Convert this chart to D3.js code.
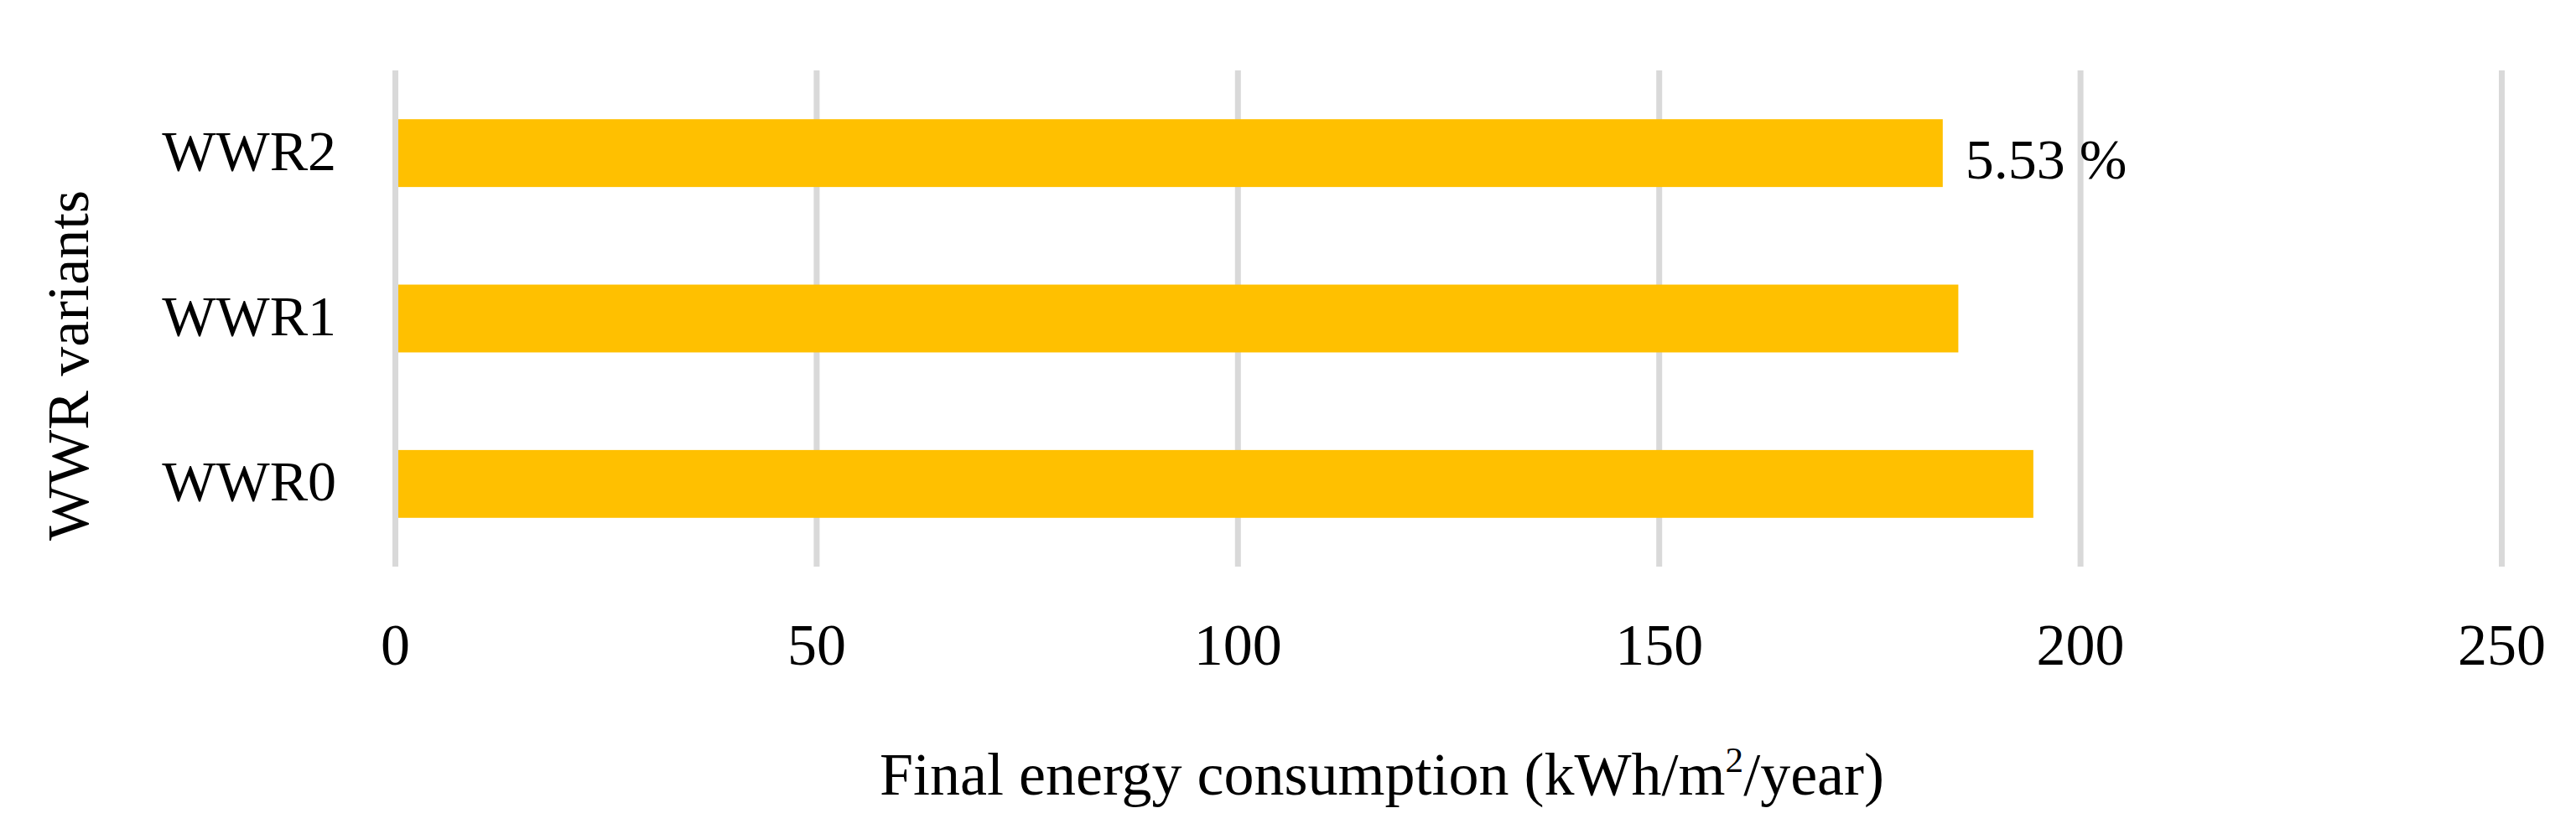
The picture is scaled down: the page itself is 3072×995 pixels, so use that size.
<!DOCTYPE html>
<html>
<head>
<meta charset="utf-8">
<script src="https://cdn.jsdelivr.net/npm/d3@7"></script>
<style>
  html, body { margin: 0; padding: 0; background: #fff; }
  text { font-family: "Liberation Serif", "DejaVu Serif", serif; fill: #000; }
</style>
</head>
<body>
<div id="chart"></div>
<script>
// values
const variants = ["WWR2", "WWR1", "WWR0"]
const consumption = [183.65, 185.5, 194.4]
const barLabels = ["5.53 %", "", ""]
const xTicks = [0, 50, 100, 150, 200, 250]

const width = 3072, height = 995
const plot = {left: 471.5, right: 2983.5, top: 84, bottom: 676}
const fontSize = 68

const svg = d3.select('#chart').append('svg')
    .attr('width', width)
    .attr('height', height)

const x = d3.scaleLinear().domain([0, 250]).range([plot.left, plot.right])
const y = d3.scaleBand().domain(variants).range([plot.top, plot.bottom])
    .paddingInner(0.59).paddingOuter(0.295)

const rows = variants.map((v, i) => ({name: v, value: consumption[i], label: barLabels[i]}))

// gridlines
svg.append('g')
    .attr('class', 'grid')
    .selectAll('line')
    .data(xTicks)
    .join('line')
    .attr('x1', d => x(d)).attr('x2', d => x(d))
    .attr('y1', plot.top).attr('y2', plot.bottom)
    .attr('stroke', '#d9d9d9')
    .attr('stroke-width', 7)

// bars
svg.append('g')
    .selectAll('rect')
    .data(rows)
    .join('rect')
    .attr('x', x(0))
    .attr('y', d => y(d.name))
    .attr('width', d => x(d.value) - x(0))
    .attr('height', y.bandwidth())
    .attr('fill', '#ffc000')

// axis line at zero sits over the bars
svg.append('line')
    .attr('x1', x(0)).attr('x2', x(0))
    .attr('y1', plot.top).attr('y2', plot.bottom)
    .attr('stroke', '#d9d9d9')
    .attr('stroke-width', 7)

// value label
svg.append('g')
    .selectAll('text')
    .data(rows.filter(d => d.label))
    .join('text')
    .attr('x', d => x(d.value) + 27)
    .attr('y', d => y(d.name) + y.bandwidth() / 2 + 30)
    .attr('font-size', fontSize)
    .text(d => d.label)

// category labels
svg.append('g')
    .selectAll('text')
    .data(variants)
    .join('text')
    .attr('x', 401)
    .attr('y', d => y(d) + y.bandwidth() / 2 + 20)
    .attr('text-anchor', 'end')
    .attr('font-size', fontSize)
    .text(d => d)

// x tick labels
svg.append('g')
    .selectAll('text')
    .data(xTicks)
    .join('text')
    .attr('x', d => x(d))
    .attr('y', 793)
    .attr('text-anchor', 'middle')
    .attr('font-size', 70)
    .text(d => d)

// axis titles
const titleSize = 72
const xTitle = svg.append('text')
    .attr('x', 1648)
    .attr('y', 948)
    .attr('text-anchor', 'middle')
    .attr('font-size', titleSize)
xTitle.append('tspan').text('Final energy consumption (kWh/m')
xTitle.append('tspan').attr('font-size', titleSize * 0.6).attr('dy', -27).text('2')
xTitle.append('tspan').attr('dy', 27).text('/year)')

svg.append('text')
    .attr('transform', 'translate(105, 436) rotate(-90)')
    .attr('text-anchor', 'middle')
    .attr('font-size', 70)
    .text('WWR variants')
</script>
</body>
</html>
